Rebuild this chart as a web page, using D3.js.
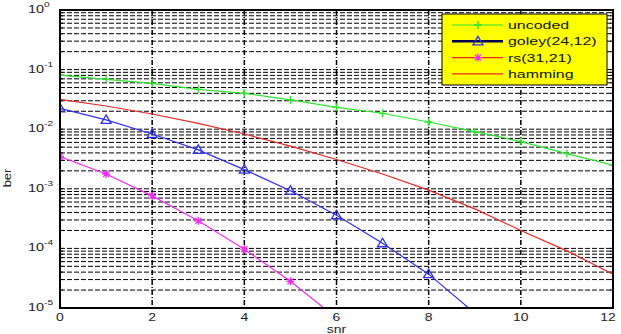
<!DOCTYPE html>
<html>
<head>
<meta charset="utf-8">
<script src="https://cdn.jsdelivr.net/npm/d3@7"></script>
<style>
  body { margin: 0; background: #fff; }
  svg { display: block; font-family: "Liberation Sans", Arial, sans-serif; }
</style>
</head>
<body>
<svg id="chart"></svg>
<script>
// values
const snr = [0, 1, 2, 3, 4, 5, 6, 7, 8, 9, 10, 11, 12];
const uncodedBer = [0.081, 0.0687, 0.0589, 0.0467, 0.040, 0.031, 0.0233, 0.0185, 0.0132, 0.0091, 0.0062, 0.0039, 0.0025];
const goleySnr = [0, 1, 2, 3, 4, 5, 6, 7, 8, 9];
const goleyBer = [0.0224, 0.0143, 0.0083, 0.0045, 0.0021, 0.00093, 0.00036, 0.000122, 0.000037, 0.0000082];
const rsSnr = [0, 1, 2, 3, 4, 5, 6];
const rsBer = [0.00346, 0.00177, 0.00076, 0.00029, 0.000097, 0.000028, 0.0000068];
const hammingBer = [0.0317, 0.0245, 0.018, 0.0125, 0.0083, 0.0052, 0.0031, 0.00177, 0.00095, 0.00046, 0.0002, 0.000091, 0.000037];

const legendLabels = ['uncoded', 'goley(24,12)', 'rs(31,21)', 'hamming'];
const xTicks = [0, 2, 4, 6, 8, 10, 12];
const yExponents = [0, -1, -2, -3, -4, -5];

class BerChart {
  constructor(_config) {
    this.config = {
      parentElement: _config.parentElement,
      width: 621,
      height: 334,
      margin: { top: 10, right: 8, bottom: 26, left: 60 }
    };
    this.initVis();
  }

  initVis() {
    const vis = this;
    const m = vis.config.margin;
    vis.innerW = vis.config.width - m.left - m.right;
    vis.innerH = vis.config.height - m.top - m.bottom;

    vis.svg = d3.select(vis.config.parentElement)
      .attr('width', vis.config.width)
      .attr('height', vis.config.height);

    vis.chart = vis.svg.append('g')
      .attr('transform', `translate(${m.left},${m.top})`);

    vis.xScale = d3.scaleLinear().domain([0, 12]).range([0, vis.innerW]);
    vis.yScale = d3.scaleLog().domain([1e-5, 1]).range([vis.innerH, 0]);

    vis.svg.append('defs').append('clipPath').attr('id', 'plot-clip')
      .append('rect').attr('width', vis.innerW).attr('height', vis.innerH);

    vis.renderVis();
  }

  renderVis() {
    const vis = this;
    const W = vis.innerW, H = vis.innerH;

    // log grid: every 1..9 x decade
    const minor = [];
    for (let e = -5; e < 0; e++) {
      for (let k = 1; k <= 9; k++) minor.push(k * Math.pow(10, e));
    }
    minor.push(1);

    vis.chart.append('g').attr('class', 'grid-y')
      .selectAll('line').data(minor).join('line')
      .attr('x1', 0).attr('x2', W)
      .attr('y1', d => vis.yScale(d)).attr('y2', d => vis.yScale(d))
      .attr('stroke', '#000').attr('stroke-width', 1)
      .attr('stroke-dasharray', '5,2');

    vis.chart.append('g').attr('class', 'grid-x')
      .selectAll('line').data(xTicks.slice(1, -1)).join('line')
      .attr('x1', d => vis.xScale(d)).attr('x2', d => vis.xScale(d))
      .attr('y1', 0).attr('y2', H)
      .attr('stroke', '#000').attr('stroke-width', 1.5)
      .attr('stroke-dasharray', '5,2,1,2');

    // inward ticks on left/right
    const ticksG = vis.chart.append('g').attr('class', 'ticks');
    ticksG.selectAll('line.tl').data(minor).join('line').attr('class', 'tl')
      .attr('x1', 0).attr('x2', 3)
      .attr('y1', d => vis.yScale(d)).attr('y2', d => vis.yScale(d))
      .attr('stroke', '#000');
    ticksG.selectAll('line.tr').data(minor).join('line').attr('class', 'tr')
      .attr('x1', W - 3).attr('x2', W)
      .attr('y1', d => vis.yScale(d)).attr('y2', d => vis.yScale(d))
      .attr('stroke', '#000');

    // series
    const plot = vis.chart.append('g').attr('clip-path', 'url(#plot-clip)');
    const line = d3.line()
      .x(d => vis.xScale(d[0]))
      .y(d => vis.yScale(d[1]));

    const series = [
      { name: 'uncoded', x: snr, y: uncodedBer, color: '#2ee62e', marker: 'plus' },
      { name: 'goley', x: goleySnr, y: goleyBer, color: '#3030f0', marker: 'tri' },
      { name: 'rs', x: rsSnr, y: rsBer, color: '#f030f0', marker: 'star' },
      { name: 'hamming', x: snr, y: hammingBer, color: '#e82828', marker: null }
    ];

    series.forEach(s => {
      const pts = s.x.map((v, i) => [v, s.y[i]]);
      plot.append('path')
        .datum(pts)
        .attr('fill', 'none')
        .attr('stroke', s.color)
        .attr('stroke-width', 1.2)
        .attr('d', line);
      if (s.marker) {
        plot.append('g').selectAll('path').data(pts).join('path')
          .attr('transform', d => `translate(${vis.xScale(d[0])},${vis.yScale(d[1])})`)
          .attr('d', vis.markerPath(s.marker))
          .attr('fill', 'none')
          .attr('stroke', s.color)
          .attr('stroke-width', 1.3);
      }
    });

    // axes box
    vis.chart.append('rect')
      .attr('width', W).attr('height', H)
      .attr('fill', 'none').attr('stroke', '#000').attr('stroke-width', 2);

    // y tick labels 10^n
    const yLab = vis.chart.append('g').attr('class', 'y-labels');
    yExponents.forEach(e => {
      const t = yLab.append('text')
        .attr('transform', `translate(-32,${vis.yScale(Math.pow(10, e)) + 3}) scale(1.45,1)`)
        .attr('font-size', 10).attr('fill', '#222');
      t.append('tspan').text('10');
      t.append('tspan').attr('font-size', 7).attr('dy', -6).text(e);
    });

    // x tick labels
    vis.chart.append('g').attr('class', 'x-labels')
      .selectAll('text').data(xTicks).join('text')
      .attr('transform', d => `translate(${vis.xScale(d) - (d === 12 ? 5 : 0)},${H + 13}) scale(1.4,1)`)
      .attr('text-anchor', 'middle')
      .attr('font-size', 10).attr('fill', '#222')
      .text(d => d);

    // axis titles
    vis.svg.append('text')
      .attr('transform', `translate(${vis.config.margin.left + vis.xScale(6)},333) scale(1.4,1)`)
      .attr('text-anchor', 'middle').attr('font-size', 10).attr('fill', '#222')
      .text('snr');
    vis.svg.append('text')
      .attr('transform', 'translate(11,178) rotate(-90) scale(1.3,1)')
      .attr('text-anchor', 'middle').attr('font-size', 10).attr('fill', '#222')
      .text('ber');

    // legend
    const lg = vis.svg.append('g').attr('transform', 'translate(442,14)');
    lg.append('rect').attr('width', 165).attr('height', 71)
      .attr('fill', '#ffff00').attr('stroke', '#000').attr('stroke-width', 1);
    const legendStyle = [
      { line: '#2ee62e', lw: 1.2, mk: 'plus', mc: '#2ee62e' },
      { line: '#000050', lw: 2.5, mk: 'tri', mc: '#3030f0' },
      { line: '#e82828', lw: 1.2, mk: 'star', mc: '#f030f0' },
      { line: '#e82828', lw: 1.2, mk: null, mc: null }
    ];
    legendLabels.forEach((lab, i) => {
      const y = 11 + i * 16.3;
      const st = legendStyle[i];
      lg.append('line').attr('x1', 10).attr('x2', 61).attr('y1', y).attr('y2', y)
        .attr('stroke', st.line).attr('stroke-width', st.lw);
      if (st.mk) {
        lg.append('path').attr('transform', `translate(36,${y})`)
          .attr('d', vis.markerPath(st.mk))
          .attr('fill', 'none').attr('stroke', st.mc).attr('stroke-width', 1.3);
      }
      lg.append('text')
        .attr('transform', `translate(66,${y + 4}) scale(1.45,1)`)
        .attr('font-size', 11).attr('fill', '#111')
        .text(lab);
    });
  }

  markerPath(type) {
    if (type === 'plus') return 'M-4,0H4M0,-4V4';
    if (type === 'tri') return 'M0,-5L5,3.5L-5,3.5Z';
    if (type === 'star') return 'M-4,0H4M0,-4V4M-3,-3L3,3M-3,3L3,-3';
    return '';
  }
}

new BerChart({ parentElement: '#chart' });
</script>
</body>
</html>
